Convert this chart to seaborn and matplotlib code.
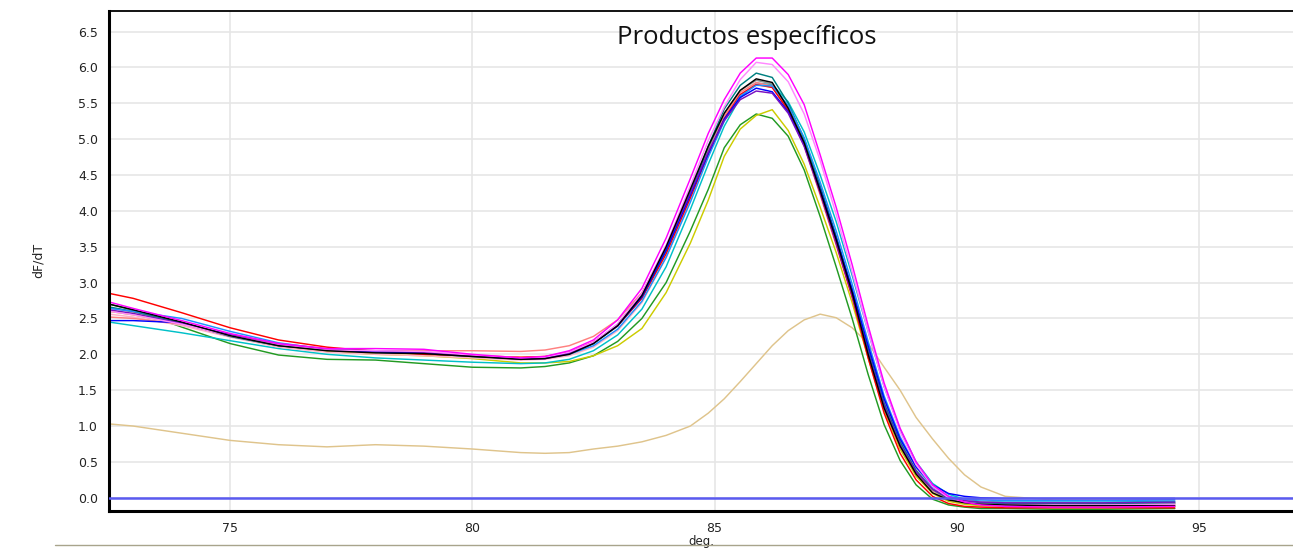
import matplotlib
matplotlib.use("Agg")
import matplotlib.pyplot as plt
from matplotlib.lines import Line2D
import numpy as np
import pandas as pd
import seaborn as sns

# Temperature grid (deg. C); finer spacing around the melting peak
temperature = [72.5, 73.0, 74.0, 75.0, 76.0, 77.0, 78.0, 79.0, 80.0, 81.0,
               81.5, 82.0, 82.5, 83.0, 83.5, 84.0, 84.5, 84.87, 85.2, 85.53,
               85.86, 86.19, 86.52, 86.85, 87.18, 87.51, 87.84, 88.17, 88.5, 88.83,
               89.16, 89.5, 89.83, 90.16, 90.5, 91.0, 92.0, 93.0, 94.5]

# dF/dT melt curves, one list per well
well_tan = [1.03, 1.00, 0.90, 0.80, 0.74, 0.71, 0.74, 0.72, 0.68, 0.63,
            0.62, 0.63, 0.68, 0.72, 0.78, 0.87, 1.00, 1.18, 1.38, 1.62,
            1.87, 2.12, 2.33, 2.48, 2.56, 2.51, 2.37, 2.15, 1.82, 1.50,
            1.12, 0.82, 0.55, 0.32, 0.15, 0.02, -0.03, -0.03, -0.03]
well_green = [2.70, 2.62, 2.38, 2.15, 1.99, 1.93, 1.92, 1.87, 1.82, 1.81,
              1.83, 1.88, 1.98, 2.18, 2.50, 3.00, 3.72, 4.30, 4.88, 5.20,
              5.35, 5.29, 5.04, 4.57, 3.92, 3.22, 2.50, 1.72, 1.02, 0.52,
              0.18, -0.02, -0.10, -0.13, -0.15, -0.15, -0.16, -0.16, -0.15]
well_olive = [2.60, 2.55, 2.42, 2.26, 2.12, 2.04, 2.00, 1.98, 1.94, 1.88,
              1.88, 1.90, 1.98, 2.12, 2.36, 2.86, 3.55, 4.15, 4.76, 5.14,
              5.33, 5.41, 5.12, 4.65, 4.05, 3.42, 2.72, 1.95, 1.22, 0.68,
              0.30, 0.06, -0.05, -0.09, -0.11, -0.12, -0.12, -0.12, -0.12]
well_cyan = [2.45, 2.40, 2.30, 2.19, 2.08, 2.00, 1.95, 1.92, 1.89, 1.87,
             1.88, 1.93, 2.05, 2.27, 2.63, 3.22, 4.02, 4.65, 5.18, 5.58,
             5.78, 5.76, 5.52, 5.10, 4.50, 3.85, 3.10, 2.32, 1.55, 0.95,
             0.50, 0.20, 0.05, -0.02, -0.05, -0.06, -0.06, -0.06, -0.05]
well_pink = [2.56, 2.52, 2.40, 2.24, 2.10, 2.03, 2.00, 1.98, 1.95, 1.92,
             1.93, 1.98, 2.10, 2.33, 2.72, 3.35, 4.15, 4.78, 5.30, 5.62,
             5.77, 5.72, 5.42, 4.95, 4.32, 3.62, 2.88, 2.08, 1.35, 0.80,
             0.40, 0.14, 0.01, -0.04, -0.06, -0.07, -0.07, -0.07, -0.07]
well_salmon = [2.52, 2.50, 2.42, 2.28, 2.15, 2.08, 2.05, 2.05, 2.05, 2.04,
               2.06, 2.12, 2.25, 2.48, 2.86, 3.48, 4.25, 4.85, 5.32, 5.65,
               5.79, 5.74, 5.40, 4.90, 4.22, 3.52, 2.80, 1.98, 1.25, 0.72,
               0.35, 0.10, -0.02, -0.06, -0.08, -0.09, -0.09, -0.09, -0.09]
well_gray = [2.65, 2.59, 2.44, 2.25, 2.12, 2.06, 2.03, 2.01, 1.97, 1.94,
             1.95, 2.01, 2.15, 2.39, 2.79, 3.44, 4.24, 4.86, 5.36, 5.68,
             5.82, 5.77, 5.44, 4.96, 4.30, 3.60, 2.86, 2.04, 1.30, 0.76,
             0.37, 0.11, -0.02, -0.06, -0.08, -0.09, -0.09, -0.09, -0.08]
well_teal = [2.66, 2.60, 2.44, 2.25, 2.12, 2.06, 2.03, 2.01, 1.97, 1.94,
             1.95, 2.01, 2.15, 2.40, 2.80, 3.45, 4.25, 4.90, 5.42, 5.75,
             5.92, 5.86, 5.50, 5.00, 4.35, 3.65, 2.90, 2.08, 1.32, 0.78,
             0.38, 0.12, -0.01, -0.05, -0.07, -0.08, -0.08, -0.08, -0.07]
well_red = [2.85, 2.78, 2.58, 2.37, 2.20, 2.10, 2.04, 2.00, 1.98, 1.96,
            1.97, 2.03, 2.17, 2.40, 2.78, 3.40, 4.18, 4.78, 5.28, 5.62,
            5.76, 5.72, 5.40, 4.92, 4.25, 3.55, 2.80, 1.95, 1.18, 0.62,
            0.25, 0.02, -0.08, -0.12, -0.13, -0.14, -0.14, -0.14, -0.14]
well_dodger = [2.64, 2.60, 2.50, 2.32, 2.16, 2.07, 2.04, 2.02, 1.98, 1.94,
               1.95, 2.00, 2.12, 2.35, 2.74, 3.35, 4.12, 4.75, 5.25, 5.60,
               5.75, 5.74, 5.47, 5.02, 4.40, 3.72, 2.98, 2.18, 1.42, 0.85,
               0.43, 0.15, 0.02, -0.02, -0.03, -0.04, -0.04, -0.04, -0.03]
well_blue = [2.47, 2.47, 2.44, 2.27, 2.13, 2.06, 2.03, 2.02, 1.98, 1.94,
             1.95, 2.02, 2.16, 2.40, 2.80, 3.45, 4.22, 4.80, 5.28, 5.58,
             5.71, 5.66, 5.38, 4.92, 4.30, 3.62, 2.90, 2.12, 1.38, 0.82,
             0.43, 0.18, 0.06, 0.02, 0.00, -0.01, -0.01, -0.01, -0.01]
well_purple = [2.62, 2.57, 2.43, 2.26, 2.13, 2.07, 2.05, 2.03, 1.98, 1.93,
               1.94, 2.01, 2.16, 2.42, 2.84, 3.50, 4.25, 4.82, 5.26, 5.55,
               5.67, 5.64, 5.36, 4.90, 4.25, 3.55, 2.82, 2.02, 1.28, 0.74,
               0.36, 0.12, 0.00, -0.04, -0.06, -0.07, -0.07, -0.07, -0.06]
well_violet = [2.60, 2.55, 2.42, 2.26, 2.13, 2.06, 2.05, 2.04, 1.99, 1.95,
               1.96, 2.03, 2.17, 2.42, 2.85, 3.52, 4.35, 4.98, 5.45, 5.83,
               6.07, 6.04, 5.80, 5.35, 4.70, 3.95, 3.15, 2.32, 1.55, 0.92,
               0.46, 0.16, 0.00, -0.06, -0.09, -0.10, -0.10, -0.10, -0.09]
well_black = [2.70, 2.62, 2.45, 2.26, 2.12, 2.05, 2.02, 2.01, 1.97, 1.93,
              1.94, 2.00, 2.15, 2.40, 2.82, 3.50, 4.30, 4.90, 5.36, 5.68,
              5.84, 5.79, 5.43, 4.95, 4.28, 3.60, 2.86, 2.00, 1.25, 0.72,
              0.33, 0.07, -0.03, -0.07, -0.09, -0.10, -0.11, -0.11, -0.11]
well_magenta = [2.73, 2.64, 2.47, 2.29, 2.15, 2.08, 2.08, 2.07, 2.00, 1.95,
                1.97, 2.05, 2.20, 2.48, 2.92, 3.62, 4.45, 5.08, 5.55, 5.92,
                6.13, 6.13, 5.90, 5.48, 4.78, 4.05, 3.25, 2.40, 1.60, 0.97,
                0.50, 0.18, 0.02, -0.06, -0.10, -0.12, -0.13, -0.13, -0.12]

wells = {
    "tan": (well_tan, "#dfc48c"),
    "green": (well_green, "#229a22"),
    "olive": (well_olive, "#cccc00"),
    "cyan": (well_cyan, "#00c0c8"),
    "pink": (well_pink, "#ffb0c8"),
    "salmon": (well_salmon, "#ff8080"),
    "gray": (well_gray, "#909090"),
    "teal": (well_teal, "#008080"),
    "red": (well_red, "#ff0000"),
    "dodger": (well_dodger, "#1e90ff"),
    "blue": (well_blue, "#0000ff"),
    "purple": (well_purple, "#7a10c0"),
    "violet": (well_violet, "#ff88ff"),
    "black": (well_black, "#000000"),
    "magenta": (well_magenta, "#ff00ff"),
}

frames = []
for name, (vals, _) in wells.items():
    frames.append(pd.DataFrame({"deg": temperature, "dFdT": vals, "well": name}))
df = pd.concat(frames, ignore_index=True)
palette = {name: col for name, (_, col) in wells.items()}

sns.set_style("white")
plt.rcParams["font.family"] = ["DejaVu Sans"]

fig = plt.figure(figsize=(12.93, 5.48), dpi=100)
ax = fig.add_axes([109 / 1293, 1 - 510.7 / 548, 1 - 109 / 1293, 500 / 548])

# grid
ax.set_axisbelow(True)
ax.grid(True, color="#e6e6e6", linewidth=1.2)

sns.lineplot(data=df, x="deg", y="dFdT", hue="well", palette=palette,
             hue_order=list(wells.keys()), estimator=None, sort=False,
             linewidth=1.05, legend=False, ax=ax)

# baseline
ax.axhline(0.0, color="#5a5af0", linewidth=1.8, zorder=3)

ax.set_xlim(72.5, 96.94)
ax.set_ylim(-0.18, 6.79)
ax.set_xticks([75, 80, 85, 90, 95])
ax.set_yticks(np.arange(0, 6.51, 0.5))
ax.set_yticklabels([f"{v:.1f}" for v in np.arange(0, 6.51, 0.5)])
ax.tick_params(axis="both", direction="out", length=4, width=1,
               color="#9a9a9a", labelsize=9, labelcolor="#222222", pad=4)

for side in ("left", "bottom"):
    ax.spines[side].set_color("black")
    ax.spines[side].set_linewidth(2.2)
ax.spines["top"].set_color("black")
ax.spines["top"].set_linewidth(1.3)
ax.spines["right"].set_visible(False)

ax.set_xlabel("deg.", fontsize=8.5, labelpad=0, color="#222222")
ax.set_ylabel("dF/dT", fontsize=9, labelpad=24, color="#222222")

ax.text(0.539, 0.946, "Productos específicos", transform=ax.transAxes,
        ha="center", va="center", fontsize=18.5, family="Open Sans",
        color="#111111")

# separator line under the chart
fig.add_artist(Line2D([55 / 1293, 1.0], [1 - 545 / 548, 1 - 545 / 548],
                      color="#a8a48c", linewidth=1.0, transform=fig.transFigure))

fig.savefig("out.png", dpi=100)
